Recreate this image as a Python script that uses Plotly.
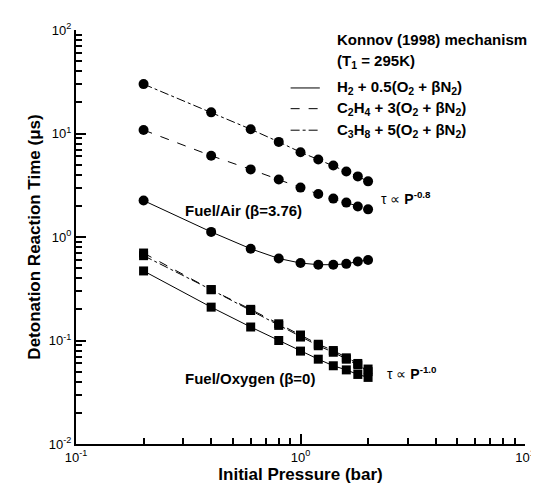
import plotly.graph_objects as go

P = [0.2, 0.4, 0.6, 0.8, 1.0, 1.2, 1.4, 1.6, 1.8, 2.0]
h2_air = [2.25, 1.12, 0.77, 0.62, 0.56, 0.54, 0.54, 0.55, 0.58, 0.60]
c2h4_air = [10.8, 6.1, 4.5, 3.6, 3.0, 2.6, 2.35, 2.15, 1.97, 1.85]
c3h8_air = [30, 16.0, 11.0, 8.3, 6.6, 5.6, 4.9, 4.3, 3.85, 3.45]
h2_o2 = [0.47, 0.21, 0.135, 0.10, 0.079, 0.066, 0.057, 0.052, 0.047, 0.044]
c2h4_o2 = [0.70, 0.31, 0.20, 0.145, 0.113, 0.092, 0.080, 0.068, 0.060, 0.053]
c3h8_o2 = [0.66, 0.31, 0.195, 0.14, 0.108, 0.089, 0.077, 0.066, 0.058, 0.050]

fig = go.Figure()
F = "Arial, Liberation Sans"
for y, dash, sym in [(h2_air, "solid", "circle"), (c2h4_air, "dash", "circle"), (c3h8_air, "dashdot", "circle"),
                     (h2_o2, "solid", "square"), (c2h4_o2, "dash", "square"), (c3h8_o2, "dashdot", "square")]:
    fig.add_trace(go.Scatter(x=P, y=y, mode="lines+markers", showlegend=False,
                             line=dict(color="black", width=1, dash=dash),
                             marker=dict(color="black", size=10 if sym == "circle" else 9, symbol=sym)))

def txt(x, y, t, s=15):
    fig.add_annotation(xref="paper", yref="paper", x=x, y=y, text=t, showarrow=False,
                       xanchor="left", yanchor="middle", font=dict(size=s, family=F, color="black"))

legend_items = [("solid", "H<sub>2</sub> + 0.5(O<sub>2</sub> + βN<sub>2</sub>)", 0.860),
                ("dash", "C<sub>2</sub>H<sub>4</sub> + 3(O<sub>2</sub> + βN<sub>2</sub>)", 0.810),
                ("dashdot", "C<sub>3</sub>H<sub>8</sub> + 5(O<sub>2</sub> + βN<sub>2</sub>)", 0.758)]
for dash, t, yy in legend_items:
    fig.add_shape(type="line", xref="paper", yref="paper", x0=0.478, x1=0.543, y0=yy, y1=yy,
                  line=dict(color="black", width=1, dash=dash))
    txt(0.576, yy, "<b>" + t + "</b>")
txt(0.576, 0.976, "<b>Konnov (1998) mechanism</b>")
txt(0.576, 0.923, "<b>(T<sub>1</sub> = 295K)</b>")
txt(0.239, 0.563, "<b>Fuel/Air (β=3.76)</b>")
txt(0.239, 0.159, "<b>Fuel/Oxygen (β=0)</b>")
txt(0.674, 0.594, "τ ∝ <b>P<sup>-0.8</sup></b>", 14)
txt(0.689, 0.171, "τ ∝ <b>P<sup>-1.0</sup></b>", 14)

xt = [0.1, 1, 10]
xtt = ["10<sup>-1</sup>", "10<sup>0</sup>", "10<sup>1</sup>"]
yt = [0.01, 0.1, 1, 10, 100]
ytt = ["10<sup>-2</sup>", "10<sup>-1</sup>", "10<sup>0</sup>", "10<sup>1</sup>", "10<sup>2</sup>"]
common = dict(type="log", ticks="inside", ticklen=10, tickcolor="black", tickwidth=1.5,
              showline=True, linecolor="black", linewidth=2, showgrid=False, zeroline=False,
              automargin=False,
              minor=dict(ticks="inside", ticklen=6, tickcolor="black", dtick="D1", showgrid=False),
              tickfont=dict(size=13, family=F, color="black"))
fig.update_xaxes(range=[-1, 1], tickvals=xt, ticktext=xtt, **common,
                 title=dict(text="<b>Initial Pressure (bar)</b>", font=dict(size=17, family=F, color="black"), standoff=0))
fig.update_yaxes(range=[-2, 2], tickvals=yt, ticktext=ytt, **common,
                 title=dict(text="<b>Detonation Reaction Time (μs)</b>", font=dict(size=17, family=F, color="black"), standoff=4))
fig.update_layout(width=539, height=485, margin=dict(l=68, r=22, t=22, b=49),
                  plot_bgcolor="white", paper_bgcolor="white")
fig.write_html("out.html")
